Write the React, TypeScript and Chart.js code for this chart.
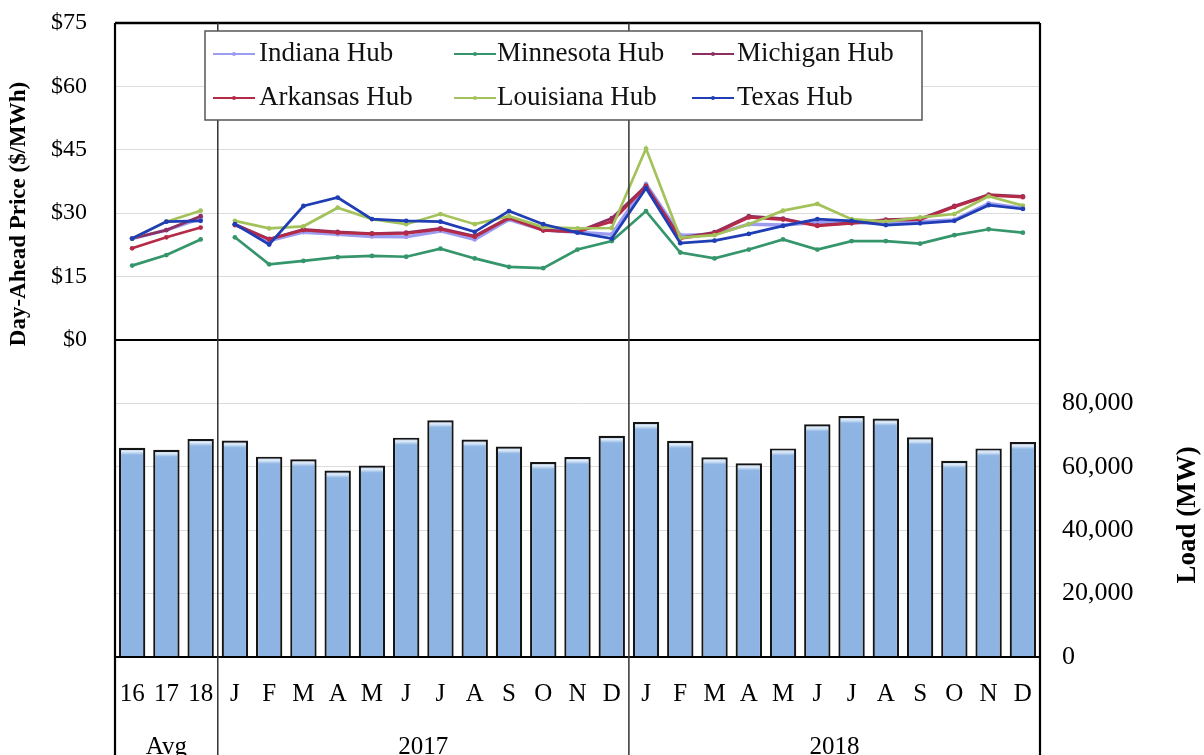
import React, { useEffect, useRef } from 'react';
import { Chart, registerables } from 'chart.js';

Chart.register(...registerables);

const FONT = "'Liberation Serif', 'Times New Roman', serif";

// Category tick labels: 3 annual averages, then 2017 and 2018 months
const tickLabels = ['16', '17', '18',
  'J', 'F', 'M', 'A', 'M', 'J', 'J', 'A', 'S', 'O', 'N', 'D',
  'J', 'F', 'M', 'A', 'M', 'J', 'J', 'A', 'S', 'O', 'N', 'D'];
const groupLabels = ['Avg', '2017', '2018'];
const groupSizes = [3, 12, 12];

// Day-ahead prices ($/MWh)
const indianaHub = [24.0, 26.0, 28.8,
  27.3, 23.5, 25.5, 25.0, 24.5, 24.4, 25.8, 23.8, 28.5, 26.0, 25.5, 25.0,
  36.9, 24.8, 25.0, 27.4, 27.2, 27.8, 27.8, 27.6, 28.0, 28.4, 32.3, 31.2];
const minnesotaHub = [17.6, 20.1, 23.8,
  24.3, 17.9, 18.7, 19.6, 19.9, 19.7, 21.6, 19.3, 17.3, 17.0, 21.4, 23.4,
  30.5, 20.7, 19.3, 21.4, 23.8, 21.4, 23.4, 23.4, 22.8, 24.8, 26.2, 25.4];
const michiganHub = [24.0, 26.0, 29.3,
  27.4, 23.9, 26.2, 25.6, 25.2, 25.4, 26.4, 24.6, 29.0, 26.0, 25.6, 28.8,
  36.5, 24.2, 25.5, 29.3, 28.7, 27.1, 27.7, 28.5, 28.7, 31.7, 34.4, 34.0];
const arkansasHub = [21.7, 24.3, 26.6,
  27.2, 23.8, 26.0, 25.4, 25.1, 25.2, 26.2, 24.4, 28.8, 25.9, 25.6, 28.0,
  36.3, 24.0, 25.2, 29.0, 28.5, 27.0, 27.6, 28.3, 28.5, 31.5, 34.2, 33.8];
const louisianaHub = [24.0, 28.0, 30.6,
  28.2, 26.4, 26.9, 31.3, 28.6, 27.4, 29.8, 27.4, 29.3, 26.7, 26.4, 26.5,
  45.3, 24.2, 24.8, 27.4, 30.6, 32.2, 28.6, 28.0, 29.0, 29.8, 34.0, 31.8];
const texasHub = [24.0, 28.0, 28.2,
  27.4, 22.6, 31.7, 33.7, 28.6, 28.2, 28.0, 25.6, 30.5, 27.4, 25.4, 24.0,
  35.9, 22.9, 23.5, 25.1, 27.0, 28.6, 28.2, 27.2, 27.6, 28.2, 31.9, 31.0];

// Average load (MW)
const loadMW = [66000, 65400, 68800,
  68300, 63200, 62400, 58800, 60400, 69200, 74700, 68600, 66400, 61500, 63100, 69800,
  74100, 68200, 63000, 61100, 65800, 73400, 76000, 75200, 69300, 61900, 65800, 67800];

const hubNames = ['Indiana Hub', 'Minnesota Hub', 'Michigan Hub', 'Arkansas Hub', 'Louisiana Hub', 'Texas Hub'];
const hubColors = ['#9c9cf0', '#35956b', '#8e2f62', '#b52a46', '#a3c25a', '#1f3db4'];
const hubValues = [indianaHub, minnesotaHub, michiganHub, arkansasHub, louisianaHub, texasHub];

const fmtThousands = (v: number) => String(v).replace(/\B(?=(\d{3})+(?!\d))/g, ',');

const noPad = (s: any) => {
  s.paddingTop = 0;
  s.paddingBottom = 0;
  s.paddingLeft = 0;
  s.paddingRight = 0;
};

const decorPlugin = {
  id: 'decor',
  afterDatasetsDraw(chart: any) {
    const { ctx, chartArea, scales } = chart;
    const x = scales.x;
    const H = chart.height;
    ctx.save();
    ctx.strokeStyle = '#000';
    ctx.lineWidth = 2;
    const y0 = scales.y.getPixelForValue(0);
    ctx.beginPath();
    ctx.moveTo(chartArea.left, y0);
    ctx.lineTo(chartArea.right, y0);
    ctx.moveTo(chartArea.left, chartArea.bottom);
    ctx.lineTo(chartArea.right, chartArea.bottom);
    ctx.stroke();
    ctx.lineWidth = 2.5;
    ctx.beginPath();
    ctx.moveTo(chartArea.left, chartArea.top);
    ctx.lineTo(chartArea.right, chartArea.top);
    ctx.stroke();
    ctx.lineWidth = 2.2;
    ctx.beginPath();
    ctx.moveTo(chartArea.left, chartArea.top);
    ctx.lineTo(chartArea.left, H);
    ctx.moveTo(chartArea.right, chartArea.top);
    ctx.lineTo(chartArea.right, H);
    ctx.stroke();
    let start = 0;
    ctx.fillStyle = '#000';
    ctx.font = `25px ${FONT}`;
    ctx.textAlign = 'center';
    ctx.textBaseline = 'alphabetic';
    groupSizes.forEach((n, gi) => {
      const end = start + n;
      const left = start === 0 ? chartArea.left : (x.getPixelForValue(start - 1) + x.getPixelForValue(start)) / 2;
      const right = end >= tickLabels.length ? chartArea.right : (x.getPixelForValue(end - 1) + x.getPixelForValue(end)) / 2;
      if (end < tickLabels.length) {
        ctx.strokeStyle = '#333';
        ctx.lineWidth = 1.5;
        ctx.beginPath();
        ctx.moveTo(right, chartArea.top);
        ctx.lineTo(right, H);
        ctx.stroke();
      }
      ctx.fillText(groupLabels[gi], (left + right) / 2, 754);
      start = end;
    });
    ctx.restore();
  },
  afterDraw(chart: any) {
    const { ctx } = chart;
    ctx.save();
    ctx.fillStyle = '#000';
    ctx.textAlign = 'center';
    ctx.textBaseline = 'middle';
    ctx.save();
    ctx.translate(19, 214);
    ctx.rotate(-Math.PI / 2);
    ctx.font = `bold 23px ${FONT}`;
    ctx.fillText('Day-Ahead Price ($/MWh)', 0, 0);
    ctx.restore();
    ctx.save();
    ctx.translate(1188, 515);
    ctx.rotate(-Math.PI / 2);
    ctx.font = `bold 27px ${FONT}`;
    ctx.fillText('Load (MW)', 0, 0);
    ctx.restore();
    const bx = 205, by = 31, bw = 717, bh = 89;
    ctx.fillStyle = '#fff';
    ctx.fillRect(bx, by, bw, bh);
    ctx.strokeStyle = '#555';
    ctx.lineWidth = 1.5;
    ctx.strokeRect(bx, by, bw, bh);
    const lineX = [213, 454, 692];
    const textX = [259, 497, 737];
    const rowY = [54, 98];
    ctx.font = `27px ${FONT}`;
    ctx.textAlign = 'left';
    ctx.textBaseline = 'middle';
    chart.data.datasets.forEach((ds: any, i: number) => {
      if (ds.type !== 'line') return;
      const col = i % 3, row = Math.floor(i / 3);
      const y = rowY[row];
      ctx.strokeStyle = ds.borderColor;
      ctx.lineWidth = 2;
      ctx.beginPath();
      ctx.moveTo(lineX[col], y);
      ctx.lineTo(lineX[col] + 42, y);
      ctx.stroke();
      ctx.fillStyle = ds.borderColor;
      ctx.beginPath();
      ctx.arc(lineX[col] + 21, y, 2, 0, Math.PI * 2);
      ctx.fill();
      ctx.fillStyle = '#111';
      ctx.fillText(ds.label, textX[col], y);
    });
    ctx.restore();
  },
};

export default function App() {
  const canvasRef = useRef<HTMLCanvasElement | null>(null);

  useEffect(() => {
    const canvas = canvasRef.current;
    if (!canvas) return;
    const lineSets = hubNames.map((name, i) => ({
      type: 'line' as const,
      label: name,
      data: hubValues[i],
      yAxisID: 'y',
      borderColor: hubColors[i],
      backgroundColor: hubColors[i],
      borderWidth: i === 0 ? 3.4 : 2.7,
      pointRadius: 2.4,
      pointHoverRadius: 2.4,
      pointBorderWidth: 0,
      pointBackgroundColor: hubColors[i],
      tension: 0,
      fill: false,
      order: 10 - i,
      segment: {
        borderColor: (c: any) => (c.p0DataIndex === groupSizes[0] - 1 ? 'rgba(0,0,0,0)' : undefined),
      },
    }));
    const barSet = {
      type: 'bar' as const,
      label: 'Load',
      data: loadMW,
      yAxisID: 'y2',
      borderColor: '#151515',
      borderWidth: 2.2,
      borderSkipped: 'bottom',
      barPercentage: 0.77,
      categoryPercentage: 1,
      order: 20,
      backgroundColor: (c: any) => {
        const chart = c.chart;
        const sc = chart.scales && chart.scales.y2;
        if (!sc || c.type !== 'data' || !chart.chartArea) return '#8db4e2';
        const yTop = sc.getPixelForValue(c.raw);
        const g = chart.ctx.createLinearGradient(0, yTop, 0, yTop + 12);
        g.addColorStop(0, '#8fb6e4');
        g.addColorStop(0.3, '#e2edf9');
        g.addColorStop(0.6, '#8fb6e4');
        g.addColorStop(1, '#8db4e2');
        return g;
      },
    };

    const chart = new Chart(canvas, {
      data: {
        labels: tickLabels,
        datasets: [...lineSets, barSet] as any,
      },
      options: {
        animation: false,
        responsive: true,
        maintainAspectRatio: false,
        layout: { padding: { top: 23, left: 0, right: 0, bottom: 0 } },
        plugins: {
          legend: { display: false },
          tooltip: { enabled: false },
          title: { display: false },
        },
        scales: {
          x: {
            type: 'category',
            offset: true,
            grid: { display: false, drawTicks: false },
            border: { display: false },
            ticks: {
              autoSkip: false,
              maxRotation: 0,
              minRotation: 0,
              padding: 22,
              color: '#000',
              font: { family: FONT, size: 25 },
            },
            afterFit: (s: any) => { s.height = 98; noPad(s); },
          },
          y: {
            type: 'linear',
            position: 'left',
            min: -75,
            max: 75,
            grid: {
              drawTicks: false,
              color: (c: any) => (c.tick && c.tick.value === 0 ? '#000' : '#dcdcdc'),
              lineWidth: 1,
            },
            border: { display: false },
            ticks: {
              stepSize: 15,
              padding: 28,
              color: '#000',
              font: { family: FONT, size: 24 },
              callback: (v: any) => (Number(v) >= 0 ? '$' + v : ''),
            },
            afterFit: (s: any) => { s.width = 115; noPad(s); },
          },
          y2: {
            type: 'linear',
            position: 'right',
            min: 0,
            max: 200000,
            grid: { display: false, drawTicks: false },
            border: { display: false },
            ticks: {
              stepSize: 20000,
              padding: 22,
              color: '#000',
              font: { family: FONT, size: 26 },
              callback: (v: any) => (Number(v) <= 80000 ? fmtThousands(Number(v)) : ''),
            },
            afterFit: (s: any) => { s.width = 164; noPad(s); },
          },
        },
      },
      plugins: [decorPlugin],
    });
    return () => chart.destroy();
  }, []);

  return (
    <div style={{ position: 'fixed', left: 0, top: 0, width: 1204, height: 755, background: '#fff' }}>
      <canvas ref={canvasRef} />
    </div>
  );
}
